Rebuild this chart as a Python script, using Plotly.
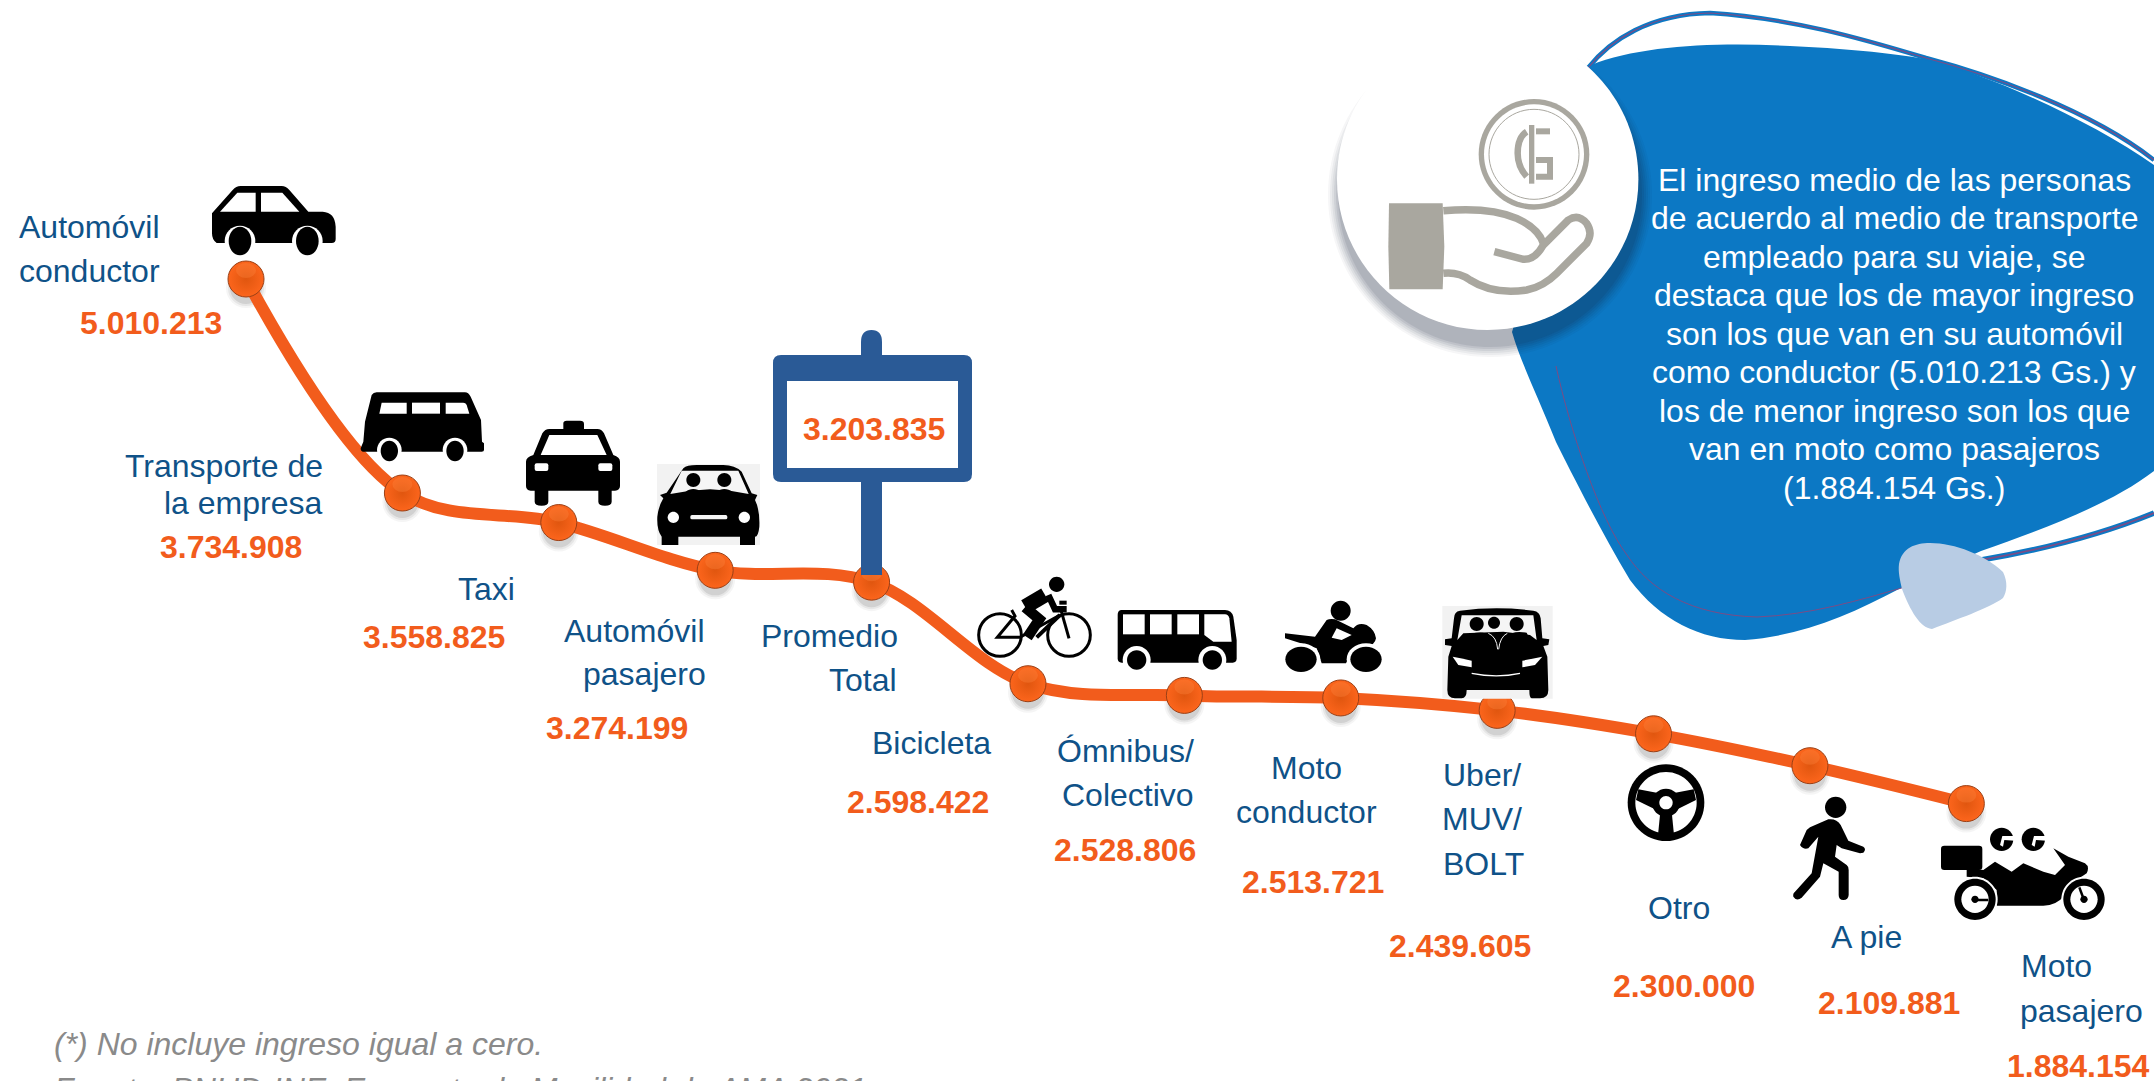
import re
import plotly.graph_objects as go

categories = ["Automóvil conductor", "Transporte de la empresa", "Taxi", "Automóvil pasajero",
              "Promedio Total", "Bicicleta", "Ómnibus/Colectivo", "Moto conductor",
              "Uber/MUV/BOLT", "Otro", "A pie", "Moto pasajero"]
values = [5010213, 3734908, 3558825, 3274199, 3203835, 2598422,
          2528806, 2513721, 2439605, 2300000, 2109881, 1884154]
footnotes = ["(*) No incluye ingreso igual a cero.",
             "Fuente: PNUD-INE, Encuesta de Movilidad de AMA 2021."]
blurb_lines = ["El ingreso medio de las personas", "de acuerdo al medio de transporte",
               "empleado para su viaje, se", "destaca que los de mayor ingreso",
               "son los que van en su automóvil", "como conductor (5.010.213 Gs.) y",
               "los de menor ingreso son los que", "van en moto como pasajeros", "(1.884.154 Gs.)"]
label_lines = [("Automóvil", 65, 165), ("conductor", 65, 197),
               ("Transporte de", 163, 339), ("la empresa", 177, 366),
               ("Taxi", 354, 429),
               ("Automóvil", 462, 459), ("pasajero", 469, 491),
               ("Promedio", 604, 463), ("Total", 628, 495),
               ("Bicicleta", 678, 541),
               ("Ómnibus/", 819, 547), ("Colectivo", 821, 579),
               ("Moto", 951, 559), ("conductor", 951, 591),
               ("Uber/", 1079, 564), ("MUV/", 1079, 596), ("BOLT", 1080, 629),
               ("Otro", 1222, 661), ("A pie", 1359, 682),
               ("Moto", 1497, 703), ("pasajero", 1515, 736)]
value_label_pos = [(110, 235), (168, 398), (316, 464), (449, 530), (636, 312), (668, 584),
                   (819, 619), (956, 642), (1063, 689), (1226, 718), (1375, 730), (1513, 776)]

W, H = 2154, 1081
K = 1.3737
ORANGE = "#F25C1C"
NAVY = "#0F5288"
BLACK = "#000000"
WHITE = "#FFFFFF"
GREY = "#A9A79F"
BLUE = "#0C78C4"

shapes = []


def tf(path, ox, oy, s):
    toks = re.findall(r"[MLCQZ]|-?\d+\.?\d*", path)
    out, idx = [], 0
    for t in toks:
        if t.isalpha():
            out.append(t)
        else:
            v = float(t)
            out.append(f"{ox + v * s:.2f}" if idx % 2 == 0 else f"{oy + v * s:.2f}")
            idx += 1
    return " ".join(out)


def fill(path, color=BLACK, o=(0, 0, 1.0)):
    shapes.append(dict(type="path", xref="x2", yref="y2", path=tf(path, *o), fillcolor=color,
                       line=dict(width=0), layer="above"))


def stroke(path, color=BLACK, width=3, o=(0, 0, 1.0)):
    shapes.append(dict(type="path", xref="x2", yref="y2", path=tf(path, *o),
                       fillcolor="rgba(0,0,0,0)",
                       line=dict(color=color, width=width), layer="above"))


def ell(cx, cy, rx, ry=None):
    ry = rx if ry is None else ry
    c = 0.5523
    return (f"M{cx - rx} {cy} C{cx - rx} {cy - c * ry} {cx - c * rx} {cy - ry} {cx} {cy - ry} "
            f"C{cx + c * rx} {cy - ry} {cx + rx} {cy - c * ry} {cx + rx} {cy} "
            f"C{cx + rx} {cy + c * ry} {cx + c * rx} {cy + ry} {cx} {cy + ry} "
            f"C{cx - c * rx} {cy + ry} {cx - rx} {cy + c * ry} {cx - rx} {cy} Z")


def rect(x0, y0, x1, y1):
    return f"M{x0} {y0} L{x1} {y0} L{x1} {y1} L{x0} {y1} Z"


def rrect(x0, y0, x1, y1, r):
    return (f"M{x0 + r} {y0} L{x1 - r} {y0} Q{x1} {y0} {x1} {y0 + r} L{x1} {y1 - r} Q{x1} {y1} {x1 - r} {y1} "
            f"L{x0 + r} {y1} Q{x0} {y1} {x0} {y1 - r} L{x0} {y0 + r} Q{x0} {y0} {x0 + r} {y0} Z")


# ---- data-anchored marker shadows and highlights
for i, v in enumerate(values):
    for grow, alpha in [(5, 0.05), (3, 0.08), (1, 0.12)]:
        shapes.append(dict(type="circle", xref="x", yref="y", xsizemode="pixel", ysizemode="pixel",
                           xanchor=i, yanchor=v, x0=-15 - grow, x1=15 + grow, y0=-24 - grow, y1=6 + grow,
                           fillcolor=f"rgba(60,60,60,{alpha})", line=dict(width=0), layer="below"))
for i, v in enumerate(values):
    shapes.append(dict(type="circle", xref="x", yref="y", xsizemode="pixel", ysizemode="pixel",
                       xanchor=i, yanchor=v, x0=-10, x1=10, y0=1, y1=16,
                       fillcolor="rgba(255,140,70,0.30)", line=dict(width=0), layer="above"))

# ---- blue blob with outlines
fill("M1591 65 C1640 45 1720 42 1790 46 C1840 48 1890 53 1926 59 C1990 75 2090 120 2154 165 L2154 471 "
     "C2110 505 2040 530 1981 551 C1950 565 1930 575 1899 589 C1850 615 1800 636 1745 640 "
     "C1700 640 1660 620 1630 580 C1600 530 1570 470 1556 442 C1535 390 1520 360 1512 332 Z", BLUE)
top_loop = "M1588 68 C1610 40 1650 14 1710 13 C1790 18 1860 38 1926 58 C1990 75 2090 110 2154 160"
tail = "M1981 560 C2040 550 2100 535 2154 513"
stroke(top_loop, BLUE, 4.5)
stroke(top_loop, "#7B4C86", 1.2)
stroke(tail, BLUE, 5.5)
stroke(tail, "#7B4C86", 1.8)
stroke("M1556 366 C1570 430 1600 520 1627 555 C1650 590 1690 615 1757 617 C1810 615 1860 600 1905 587",
       "#7B4C86", 1)
fill("M1899 564 C1902 548 1915 543 1930 543 C1955 543 1985 555 2003 572 C2008 582 2007 592 2003 598 "
     "C1990 608 1955 620 1932 629 C1920 628 1910 610 1902 589 C1900 580 1898 572 1899 564 Z", "#B8CCE4")

# ---- white circle with coin in hand
for grow, alpha in [(12, 0.04), (10, 0.05), (8, 0.06), (6, 0.07), (4, 0.08), (2, 0.09)]:
    fill(ell(1490, 195, 150 + grow), f"rgba(20,30,50,{alpha})")
fill(ell(1487.7, 179.3, 150.7), WHITE)
h = (1330, 20, 1 / 3)
fill(ell(612, 403, 166), GREY, h)
fill(ell(612, 403, 150), WHITE, h)
stroke(ell(612, 403, 135), GREY, 1, h)
fill(rect(597, 315, 613, 491), GREY, h)
stroke("M590 335 Q563 352 563 400 Q563 440 590 470", GREY, 6.5, h)
stroke("M618 334 L660 334", GREY, 6, h)
stroke("M618 420 L660 420 L660 470 L618 470", GREY, 6, h)
fill("M177 550 L338 550 L343 680 L338 808 L178 808 L175 680 Z", GREY, h)
stroke("M340 572 Q480 560 560 595 Q625 625 640 670", GREY, 7.5, h)
stroke("M340 760 Q385 755 420 780 Q490 825 590 810 Q640 800 680 760 L770 670 Q790 640 770 610 "
       "Q745 580 715 600 L640 675 Q615 720 580 718 L493 695", GREY, 7.5, h)

# ---- car (side)
a = (200, 175, 1 / 3)
fill("M36 115 L98 45 Q108 33 122 33 L245 33 Q258 33 268 45 L325 110 L368 110 Q405 112 407 155 L407 192 "
     "Q407 204 395 204 L50 204 Q36 195 36 175 Z", BLACK, a)
fill("M60 110 L112 53 L167 53 L167 110 Z", WHITE, a)
fill("M183 53 L247 53 L298 110 L183 110 Z", WHITE, a)
for cx in (120, 322):
    fill(ell(cx, 198, 46), WHITE, a)
    fill(ell(cx, 198, 34, 43), BLACK, a)
# ---- van
fill("M515 660 Q520 652 530 652 L795 652 Q805 652 812 665 L843 735 L846 800 L852 805 L852 825 Q852 830 845 830 "
     "L490 830 Q482 830 482 820 L490 800 L495 740 Z", BLACK, a)
fill("M545 683 L620 683 L620 716 L538 716 Z", WHITE, a)
fill("M636 683 L720 683 L720 716 L636 716 Z", WHITE, a)
fill("M737 683 L790 683 Q797 683 800 690 L808 716 L737 716 Z", WHITE, a)
for cx in (568, 765):
    fill(ell(cx, 825, 37), WHITE, a)
    fill(ell(cx, 828, 26, 31), BLACK, a)
# ---- taxi
b = (510, 400, 1 / 3)
fill("M160 70 Q160 62 170 62 L210 62 Q222 62 222 72 L222 87 L262 87 Q275 87 282 100 L310 165 Q330 172 330 185 "
     "L330 258 Q330 270 315 272 L305 272 L305 305 Q305 317 285 317 Q265 317 265 305 L265 272 L115 272 L115 305 "
     "Q115 317 95 317 Q74 317 74 305 L74 272 L62 272 Q48 270 48 258 L48 185 Q48 172 70 165 L97 100 Q105 87 118 87 "
     "L160 87 Z", BLACK, b)
fill("M118 105 L262 105 L290 165 L92 165 Z", WHITE, b)
fill(rrect(74, 190, 115, 213, 6), WHITE, b)
fill(rrect(265, 190, 307, 213, 6), WHITE, b)
# ---- front car
fill(rect(441, 192, 750, 435), "#F2F2F2", b)
fill("M520 205 Q530 195 560 195 L640 195 Q675 195 695 215 L725 280 L742 285 L735 300 Q750 330 748 380 Q745 410 735 410 "
     "L735 435 L690 435 L690 410 L505 410 L505 435 L455 435 L455 410 Q440 390 442 350 Q445 320 460 295 L450 285 L470 278 Z",
     BLACK, b)
fill("M515 212 L685 212 L716 282 L660 272 L600 268 L540 272 L481 282 Z", "#F5F5F5", b)
for cx in (550, 643):
    fill(ell(cx, 240, 21), BLACK, b)
    fill(ell(cx, 295, 32, 28), BLACK, b)
fill(ell(490, 352, 17), WHITE, b)
fill(ell(703, 352, 17), WHITE, b)
fill(rrect(541, 345, 652, 358, 5), "#F5F5F5", b)
# ---- bicycle
c = (960, 560, 1 / 3)
for cx in (120, 327):
    stroke(ell(cx, 225, 64), BLACK, 3, c)
fill(ell(290, 73, 23), BLACK, c)
stroke("M255 105 L195 140", BLACK, 15, c)
stroke("M195 142 L238 178 L202 232", BLACK, 10.5, c)
stroke("M265 105 L285 148 L320 148", BLACK, 6.5, c)
stroke("M155 150 L165 168 L112 232 L180 232 L300 165", BLACK, 3, c)
stroke("M230 232 L300 165", BLACK, 4, c)
stroke("M300 140 L327 235", BLACK, 3, c)
stroke("M298 128 L320 128", BLACK, 4, c)
# ---- bus
fill("M485 150 L795 150 Q815 150 820 170 L830 240 L830 295 Q830 308 818 308 L485 308 Q473 308 473 295 L473 165 "
     "Q473 150 485 150 Z", BLACK, c)
for x0 in (489, 570, 652):
    fill(rect(x0, 163, x0 + 65, 223), WHITE, c)
fill("M733 163 L795 163 Q805 163 808 175 L815 245 L760 245 L733 225 Z", WHITE, c)
for cx in (530, 757):
    fill(ell(cx, 300, 42), WHITE, c)
    fill(ell(cx, 300, 29), BLACK, c)
# ---- motorcycle driver
d = (1270, 590, 1 / 3)
fill(ell(212, 62, 30), BLACK, d)
fill("M45 130 L135 140 L170 90 Q180 85 195 88 L250 115 Q265 95 290 105 Q315 120 318 145 Q315 165 290 170 L250 175 "
     "L228 220 L155 220 L140 175 L45 145 Z", BLACK, d)
fill("M200 115 L245 135 L215 150 L185 143 Z", WHITE, d)
fill(ell(93, 208, 58, 48), WHITE, d)
fill(ell(288, 208, 58, 48), WHITE, d)
fill(ell(93, 208, 47, 38), BLACK, d)
fill(ell(288, 208, 47, 38), BLACK, d)
# ---- uber
fill(rect(517, 48, 848, 326), "#F2F2F2", d)
fill("M570 62 Q680 48 790 62 Q810 65 812 85 L817 145 L838 148 L835 165 L820 168 L832 200 L835 300 Q835 325 810 325 "
     "L785 325 Q778 325 778 300 L590 300 Q590 325 575 325 L555 325 Q532 325 532 300 L535 200 L545 168 L525 165 L525 148 "
     "L545 145 L552 85 Q552 65 570 62 Z", BLACK, d)
fill("M575 76 L790 76 L800 150 L780 135 L700 125 L580 130 L562 150 Z", "#F5F5F5", d)
fill(ell(620, 102, 21), BLACK, d)
fill(ell(672, 98, 18), BLACK, d)
fill(ell(740, 102, 21), BLACK, d)
fill("M570 160 Q580 125 640 128 L670 150 L680 180 L695 180 L705 140 Q730 120 770 128 L785 160 Z", BLACK, d)
stroke("M655 130 Q680 140 683 178 M712 130 Q690 140 686 178", "#F5F5F5", 1, d)
fill("M548 200 Q575 205 605 212 L605 232 L565 225 Z", WHITE, d)
fill("M817 200 Q790 205 757 212 L757 232 L795 225 Z", WHITE, d)
stroke("M605 250 Q680 265 750 250", WHITE, 1.2, d)
# ---- steering wheel
e = (1620, 750, 1 / 3)
fill(ell(138, 158, 115), BLACK, e)
fill(ell(138, 158, 92), WHITE, e)
fill(ell(138, 158, 42), BLACK, e)
fill("M55 118 L118 130 L105 178 L48 150 Z", BLACK, e)
fill("M221 118 L158 130 L172 178 L228 150 Z", BLACK, e)
fill("M120 195 L156 195 L162 255 L114 255 Z", BLACK, e)
fill(ell(138, 158, 20), WHITE, e)
# ---- walker
fill(ell(647, 172, 32), BLACK, e)
fill("M570 232 L625 208 Q650 205 662 225 L685 272 L730 290 Q740 298 730 308 L720 310 L665 295 L650 285 L645 320 L680 345 "
     "Q688 352 686 360 L686 435 Q685 450 670 450 Q656 450 656 435 L656 365 L610 340 L600 380 L545 443 Q530 455 520 440 "
     "Q518 430 525 425 L575 370 L595 260 L565 295 Q550 300 540 285 L560 240 Z", BLACK, e)
# ---- motorcycle with passenger
fill(rrect(963, 287, 1087, 360, 10), BLACK, e)
for cx in (1145, 1240):
    fill(ell(cx, 268, 35), BLACK, e)
    fill(f"M{cx + 2} 258 L{cx + 40} 258 L{cx + 40} 272 L{cx + 8} 270 L{cx + 4} 290 L{cx - 5} 285 Z", WHITE, e)
fill("M1040 355 L1090 360 L1125 335 L1175 365 L1210 340 L1270 365 L1305 375 L1335 345 L1300 295 L1345 320 L1395 340 "
     "Q1410 350 1400 370 L1370 390 L1330 440 Q1310 465 1270 467 L1130 467 L1130 420 L1090 385 L1040 380 Z", BLACK, e)
for cx in (1065, 1392):
    fill(ell(cx, 448, 68), WHITE, e)
    fill(ell(cx, 448, 62), BLACK, e)
    fill(ell(cx, 448, 41), WHITE, e)
    fill(ell(cx, 448, 11), BLACK, e)
stroke("M1065 450 L1105 450", BLACK, 2.5, e)
stroke("M1392 450 L1378 412", BLACK, 2.5, e)
# ---- sign post and board
fill("M861 340 L861 342 Q861 330 871.5 330 Q882 330 882 342 L882 360 L861 360 Z", "#2A5A96")
fill(rect(861, 478, 882, 575), "#2A5A96")
fill(rrect(773, 355, 972, 482, 8), "#2A5A96")
fill(rect(787, 381, 958, 468), WHITE)

annotations = []


def text(s, x, y, size=32, color=NAVY, bold=False, italic=False, yanchor="middle", xanchor="center"):
    s2 = f"<b>{s}</b>" if bold else s
    s2 = f"<i>{s2}</i>" if italic else s2
    annotations.append(dict(text=s2, x=x, y=y, xref="x2", yref="y2", showarrow=False,
                            xanchor=xanchor, yanchor=yanchor,
                            font=dict(family="Liberation Sans", size=size, color=color)))


for s, x, y in label_lines:
    text(s, x * K, y * K)
for v, (x, y) in zip(values, value_label_pos):
    text(f"{v:,}".replace(",", "."), x * K, y * K, color=ORANGE, bold=True)
for i, line in enumerate(blurb_lines):
    text(line, 1379 * K, (131 + i * 28) * K, size=32, color=WHITE)
text(footnotes[0], 38 * K, 760 * K, color="#8A8A8A", italic=True, size=32, xanchor="left")
text(footnotes[1], 38 * K, 1069, color="#8A8A8A", italic=True, size=32, xanchor="left", yanchor="top")

fig = go.Figure()
fig.add_trace(go.Scatter(
    x=categories, y=values, mode="lines+markers",
    line=dict(color=ORANGE, width=12, shape="spline", smoothing=1.0),
    marker=dict(size=36, color="#FC651C", line=dict(color="#9A4016", width=1),
                gradient=dict(type="radial", color="#E0560F")),
    hoverinfo="skip", showlegend=False, xaxis="x", yaxis="y"))
fig.add_trace(go.Scatter(x=[0], y=[0], mode="markers", marker=dict(opacity=0, size=1),
                         hoverinfo="skip", showlegend=False, xaxis="x2", yaxis="y2"))
fig.update_layout(
    width=W, height=H, margin=dict(l=0, r=0, t=0, b=0),
    paper_bgcolor=WHITE, plot_bgcolor=WHITE, showlegend=False,
    xaxis=dict(type="category", categoryorder="array", categoryarray=categories,
               range=[-1.573, 12.2], visible=False, fixedrange=True),
    yaxis=dict(range=[231000, 6672800], visible=False, fixedrange=True),
    xaxis2=dict(range=[0, W], visible=False, overlaying="x", anchor="y2", fixedrange=True),
    yaxis2=dict(range=[H, 0], visible=False, overlaying="y", anchor="x2", fixedrange=True),
    shapes=shapes, annotations=annotations)
fig.write_html("out.html", config=dict(displayModeBar=False),
               post_script="document.body.style.margin='0';document.body.style.overflow='hidden';")
